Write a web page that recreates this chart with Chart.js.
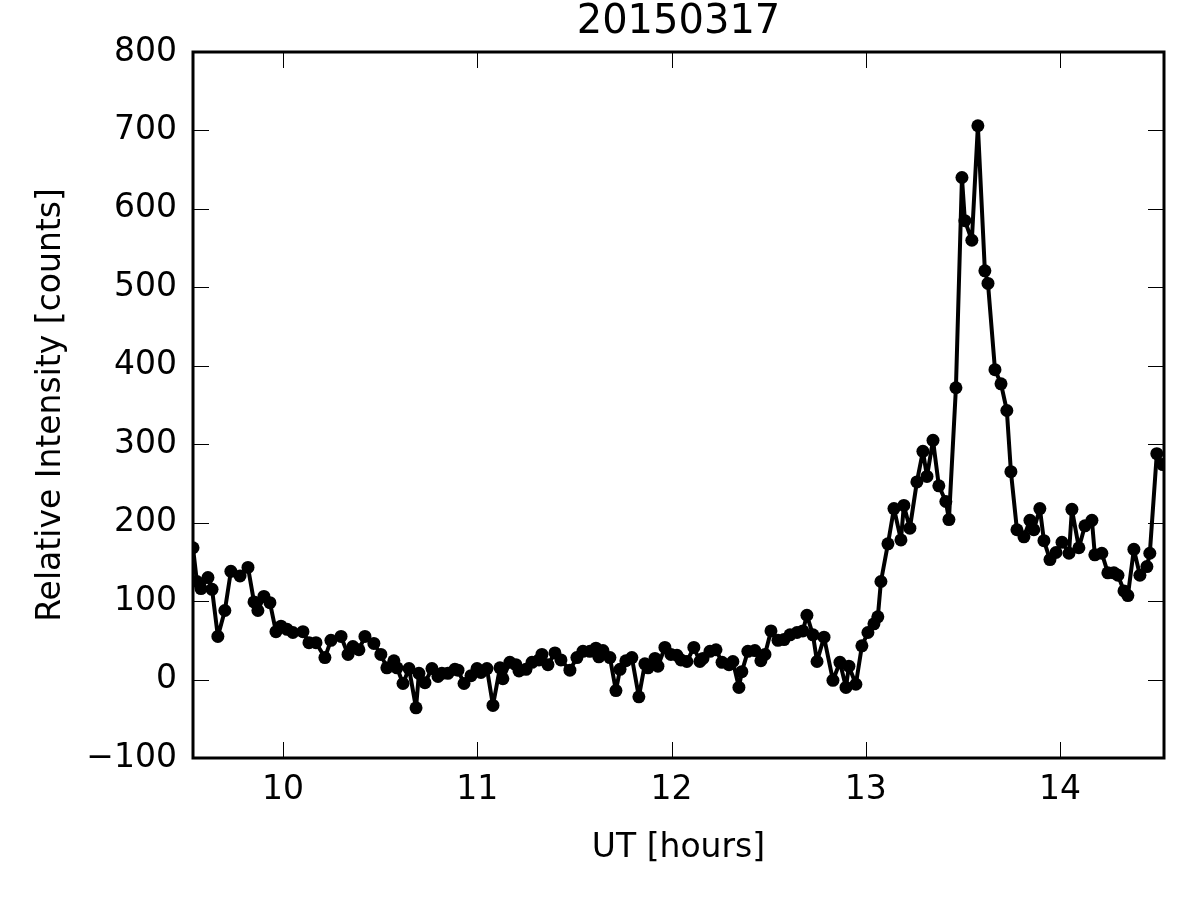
<!DOCTYPE html>
<html>
<head>
<meta charset="utf-8">
<script src="https://cdn.jsdelivr.net/npm/chart.js@4/dist/chart.umd.min.js"></script>
<style>
  html, body { margin: 0; padding: 0; background: #fff; }
  canvas { display: block; }
</style>
</head>
<body>
<canvas id="c" width="1200" height="900"></canvas>
<script>
const chartTitle = "20150317";
const xTitle = "UT [hours]";
const yTitle = "Relative Intensity [counts]";

const times = [
  9.537, 9.557, 9.578, 9.614, 9.635, 9.665, 9.701, 9.732, 9.779, 9.820,
  9.851, 9.871, 9.902, 9.933, 9.964, 9.990, 10.021, 10.051, 10.103, 10.134,
  10.170, 10.216, 10.247, 10.299, 10.335, 10.360, 10.391, 10.422, 10.468, 10.504,
  10.535, 10.571, 10.587, 10.618, 10.649, 10.685, 10.700, 10.731, 10.767, 10.798,
  10.818, 10.849, 10.885, 10.901, 10.932, 10.968, 10.999, 11.019, 11.050, 11.081,
  11.117, 11.132, 11.168, 11.199, 11.215, 11.251, 11.282, 11.318, 11.333, 11.364,
  11.400, 11.431, 11.477, 11.513, 11.544, 11.580, 11.611, 11.626, 11.647, 11.683,
  11.714, 11.735, 11.765, 11.796, 11.832, 11.863, 11.879, 11.915, 11.930, 11.966,
  11.997, 12.028, 12.049, 12.079, 12.115, 12.146, 12.162, 12.198, 12.229, 12.260,
  12.296, 12.316, 12.347, 12.362, 12.393, 12.429, 12.460, 12.481, 12.512, 12.548,
  12.579, 12.610, 12.646, 12.676, 12.697, 12.728, 12.749, 12.785, 12.831, 12.867,
  12.898, 12.913, 12.949, 12.980, 13.011, 13.042, 13.062, 13.078, 13.114, 13.145,
  13.181, 13.196, 13.227, 13.263, 13.294, 13.315, 13.346, 13.376, 13.412, 13.428,
  13.464, 13.495, 13.510, 13.546, 13.577, 13.613, 13.629, 13.665, 13.696, 13.726,
  13.747, 13.778, 13.814, 13.845, 13.865, 13.896, 13.917, 13.948, 13.979, 14.010,
  14.046, 14.061, 14.097, 14.128, 14.164, 14.179, 14.215, 14.246, 14.277, 14.298,
  14.329, 14.349, 14.380, 14.411, 14.447, 14.462, 14.498, 14.529
];

const counts = [
  168, 125, 116, 130, 115, 55, 88, 138, 132, 143,
  99, 88, 106, 98, 61, 68, 64, 60, 61, 47,
  47, 28, 50, 55, 32, 42, 38, 55, 46, 32,
  15, 24, 15, -5, 14, -36, 8, -4, 14, 4,
  8, 8, 13, 12, -5, 5, 14, 9, 14, -33,
  15, 1, 22, 19, 11, 13, 22, 25, 32, 19,
  34, 25, 12, 28, 36, 36, 40, 29, 37, 28,
  -14, 13, 24, 28, -22, 20, 15, 27, 17, 41,
  32, 31, 25, 23, 41, 23, 27, 36, 38, 22,
  19, 23, -10, 10, 36, 37, 24, 32, 62, 50,
  51, 57, 60, 62, 82, 57, 23, 54, -1, 22,
  -10, 17, -6, 43, 60, 71, 80, 125, 173, 218,
  178, 222, 193, 252, 291, 259, 305, 247, 227, 204,
  372, 640, 585, 560, 706, 521, 505, 395, 377, 343,
  265, 191, 182, 203, 191, 218, 177, 153, 162, 175,
  161, 217, 168, 196, 203, 159, 161, 136, 136, 133,
  113, 107, 166, 133, 144, 161, 288, 274
];

const xRange = [9.537, 14.535];
const yRange = [-100, 800];
const xStep = 1;
const yStep = 100;

const FONT = "'DejaVu Sans', sans-serif";
Chart.defaults.font.family = FONT;
Chart.defaults.color = '#000';

const points = times.map((t, i) => ({ x: t, y: counts[i] }));

const frame = {
  id: 'frame',
  afterDraw(chart) {
    const { ctx, chartArea: a, scales } = chart;
    const xs = scales.x, ys = scales.y;
    const TL = 16;
    ctx.save();
    ctx.strokeStyle = '#000';
    ctx.lineWidth = 1;
    ctx.beginPath();
    xs.ticks.forEach(t => {
      const px = Math.round(xs.getPixelForValue(t.value)) + 0.5;
      ctx.moveTo(px, a.bottom); ctx.lineTo(px, a.bottom - TL);
      ctx.moveTo(px, a.top); ctx.lineTo(px, a.top + TL);
    });
    ys.ticks.forEach(t => {
      const py = Math.round(ys.getPixelForValue(t.value)) + 0.5;
      ctx.moveTo(a.left, py); ctx.lineTo(a.left + TL, py);
      ctx.moveTo(a.right, py); ctx.lineTo(a.right - TL, py);
    });
    ctx.stroke();
    ctx.lineWidth = 3;
    ctx.strokeRect(a.left, a.top, a.right - a.left, a.bottom - a.top);

    ctx.fillStyle = '#000';
    ctx.textAlign = 'center';
    ctx.textBaseline = 'alphabetic';
    ctx.font = "40px " + FONT;
    ctx.fillText(chartTitle, (a.left + a.right) / 2, 33);
    ctx.font = "33px " + FONT;
    ctx.fillText(xTitle, (a.left + a.right) / 2, 857);
    ctx.translate(60, (a.top + a.bottom) / 2);
    ctx.rotate(-Math.PI / 2);
    ctx.fillText(yTitle, 0, 0);
    ctx.restore();
  }
};

new Chart(document.getElementById('c'), {
  type: 'line',
  data: {
    datasets: [{
      data: points,
      borderColor: '#000',
      backgroundColor: '#000',
      borderWidth: 4,
      borderJoinStyle: 'round',
      borderCapStyle: 'round',
      pointRadius: 6.5,
      pointHoverRadius: 6.5,
      pointBorderWidth: 0,
      pointBackgroundColor: '#000',
      tension: 0,
      fill: false,
      clip: 0
    }]
  },
  options: {
    responsive: false,
    devicePixelRatio: 1,
    animation: false,
    events: [],
    layout: { padding: { top: 52, right: 36, left: 0, bottom: 0 } },
    plugins: { legend: { display: false }, title: { display: false }, tooltip: { enabled: false } },
    scales: {
      x: {
        type: 'linear',
        min: xRange[0],
        max: xRange[1],
        afterFit(s) { s.height = 142; },
        grid: { display: false, drawTicks: false },
        border: { display: false },
        ticks: {
          stepSize: xStep,
          includeBounds: false,
          autoSkip: false,
          maxRotation: 0,
          padding: 13,
          font: { size: 33 },
          color: '#000',
          callback: v => Number.isInteger(v) ? String(v) : ''
        }
      },
      y: {
        type: 'linear',
        min: yRange[0],
        max: yRange[1],
        afterFit(s) { s.width = 193; },
        grid: { display: false, drawTicks: false },
        border: { display: false },
        ticks: {
          stepSize: yStep,
          autoSkip: false,
          padding: 16,
          font: { size: 33 },
          color: '#000',
          callback: v => v < 0 ? '\u2212' + Math.abs(v) : String(v)
        }
      }
    }
  },
  plugins: [frame]
});
</script>
</body>
</html>
